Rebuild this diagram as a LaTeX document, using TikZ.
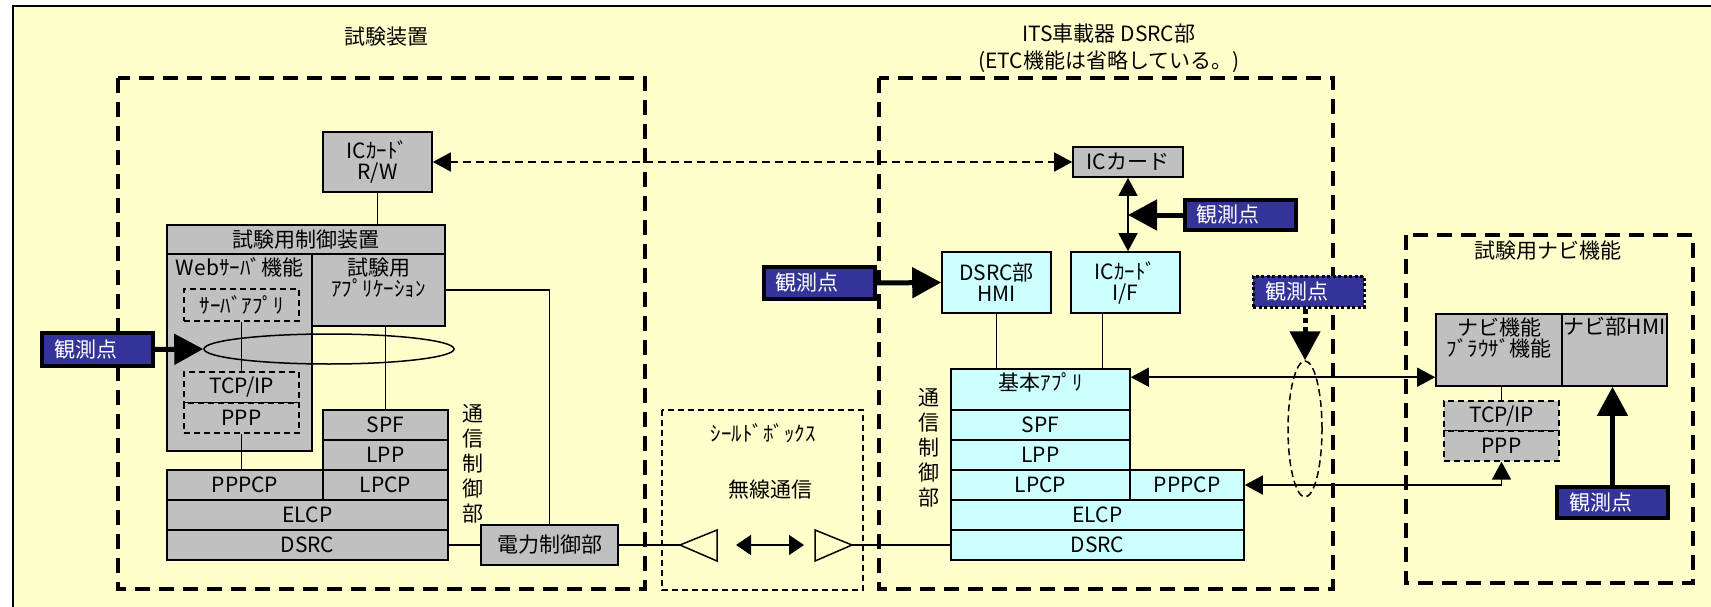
\documentclass[tikz,border=0pt]{standalone}
\usepackage{fontspec}
\setmainfont{Noto Sans CJK JP}
\usetikzlibrary{arrows.meta,shapes.geometric}
\definecolor{bgy}{HTML}{FFFFCC}
\definecolor{gry}{HTML}{C0C0C0}
\definecolor{cyn}{HTML}{CCFFFF}
\definecolor{obsblue}{HTML}{333399}
\newcommand\fs{\fontsize{21}{21}\selectfont}

\begin{document}
\begin{tikzpicture}[x=1pt,y=-1pt,font=\fs,
  wh/.style 2 args={minimum width=#1pt,minimum height=#2pt},
  gb/.style={draw,fill=gry,line width=1.6pt,inner sep=1pt,align=center},
  cb/.style={gb,fill=cyn},
  db/.style={gb,line width=1.4pt,dash pattern=on 6pt off 4pt},
  toptxt/.style={label={[font=\fs,align=center,anchor=north,inner sep=2pt,yshift=-2pt]north:{#1}}},
  big/.style={line width=3.5pt,dash pattern=on 15pt off 9pt},
  obs/.style={draw,fill=obsblue,text=white,line width=4pt,inner xsep=12pt,inner ysep=1pt,
    text width=87pt,align=left,minimum height=#1pt},
  oar/.style={line width=5pt,-{Triangle[length=29pt,width=30pt]}},
  tar/.style={line width=1.5pt,{Triangle[length=18pt,width=19pt]}-{Triangle[length=18pt,width=19pt]}},
  ln/.style={line width=1.5pt}]
\useasboundingbox (0,0) rectangle (1711,607);
\fill[white] (0,0) rectangle (1711,607);
\clip (0,0) rectangle (1711,607);
\draw[line width=2pt,fill=bgy] (13,6) rectangle (1730,630);

% frames
\draw[big] (118,78) rectangle (645,589);
\draw[big] (879,78) rectangle (1333,589);
\draw[big] (1406,235) rectangle (1693,583);
\draw[line width=1.4pt,dash pattern=on 6pt off 4pt] (662,410) rectangle (863,590);

\node (ttla) at (386,37) {試験装置};
\node[align=center] (ttlb) at (1109,48) {ITS車載器 DSRC部\\[6pt](ETC機能は省略している。)};
\node (ttlc) at (1548,251) {試験用ナビ機能};

% test unit
\node[gb,wh={109}{60}] (rw) at (377.5,162) {ICｶｰﾄﾞ\\R/W};
\node[gb,wh={278}{29}] (ctl) at (306,239.5) {試験用制御装置};
\node[gb,wh={145}{197},toptxt=Webｻｰﾊﾞ機能] (web) at (239.5,352.5) {};
\node[gb,wh={133}{72},toptxt={試験用\\ｱﾌﾟﾘｹｰｼｮﾝ}] (app) at (378.5,290) {};
\node[db,wh={115}{32}] (srv) at (241.5,305) {ｻｰﾊﾞｱﾌﾟﾘ};
\node[db,wh={115}{31}] (tcpa) at (241.5,387.5) {TCP/IP};
\node[db,wh={115}{30}] (pppa) at (241.5,418) {PPP};
\foreach \n/\t/\y in {spfa/SPF/425,lppa/LPP/455,lpcpa/LPCP/485}
  \node[gb,wh={125}{30}] (\n) at (385.5,\y) {\t};
\node[gb,wh={156}{30}] (pppcpa) at (245,485) {PPPCP};
\node[gb,wh={281}{30}] (elcpa) at (307.5,515) {ELCP};
\node[gb,wh={281}{30}] (dsrca) at (307.5,545) {DSRC};
\node[align=center] (tsa) at (473,464) {通\\[4pt]信\\[4pt]制\\[4pt]御\\[4pt]部};
\node[gb,wh={137}{40}] (pwr) at (549.5,545) {電力制御部};
\draw[ln] (rw.south) -- (rw.south |- ctl.north);
\draw[ln] (srv.south) -- (tcpa.north);
\draw[ln] (pppa.south) -- (pppa.south |- pppcpa.north);
\draw[ln] (spfa.north) -- (spfa.north |- app.south);
\draw[ln] (app.east) -| (pwr.north);
\draw[ln] (dsrca.east) -- (pwr.west);
\node[ellipse,draw,ln,wh={250}{30}] (ell) at (329,349) {};

% shield box
\node (shd) at (763,433) {ｼｰﾙﾄﾞﾎﾞｯｸｽ};
\node (rad) at (770,490) {無線通信};
\coordinate (antl) at (680,545);
\coordinate (antr) at (852,545);
\coordinate (wl) at (736,545);
\coordinate (wr) at (804,545);
\draw[ln] (antl) -- ++(37,-15) -- ++(0,31) -- cycle;
\draw[ln] (antr) -- ++(-37,-15) -- ++(0,31) -- cycle;
\draw[ln,{Triangle[length=15pt,width=20pt]}-{Triangle[length=15pt,width=20pt]}] (wl) -- (wr);
\draw[ln] (pwr.east) -- (antl);

% ITS unit
\node[gb,wh={110}{30}] (icc) at (1128,162) {ICカード};
\node[cb,wh={109}{61}] (hmi) at (996.5,282.5) {DSRC部\\HMI};
\node[cb,wh={109}{61}] (icf) at (1125.5,282.5) {ICｶｰﾄﾞ\\I/F};
\node[cb,wh={179}{41},toptxt=基本ｱﾌﾟﾘ] (kih) at (1040.5,389.5) {};
\foreach \n/\t/\y in {spfb/SPF/425,lppb/LPP/455,lpcpb/LPCP/485}
  \node[cb,wh={179}{30}] (\n) at (1040.5,\y) {\t};
\node[cb,wh={114}{30}] (pppcpb) at (1187,485) {PPPCP};
\node[cb,wh={293}{30}] (elcpb) at (1097.5,515) {ELCP};
\node[cb,wh={293}{30}] (dsrcb) at (1097.5,545) {DSRC};
\node[align=center] (tsb) at (929,448) {通\\[4pt]信\\[4pt]制\\[4pt]御\\[4pt]部};
\draw[ln] (hmi.south) -- (hmi.south |- kih.north);
\draw[ln] ([xshift=-23pt]icf.south) -- ([xshift=-23pt]icf.south |- kih.north);
\draw[ln] (antr) -- (dsrcb.west);
\draw[tar,dash pattern=on 8pt off 5pt] (rw.east) -- (icc.west);
\draw[tar] (icc.south) -- (icc.south |- icf.north);
\node[ellipse,draw,ln,dash pattern=on 7pt off 4pt,wh={34}{136}] (ell2) at (1305,429) {};

% navi
\node[gb,wh={126}{72},toptxt={ナビ機能\\ﾌﾞﾗｳｻﾞ機能}] (nav) at (1499,350) {};
\node[gb,wh={105}{72},toptxt=ナビ部HMI] (nhmi) at (1614.5,350) {};
\node[db,wh={115}{30}] (tcpc) at (1501.5,416) {TCP/IP};
\node[db,wh={115}{30}] (pppc) at (1501.5,446) {PPP};
\draw[ln] (tcpc.north) -- (tcpc.north |- nav.south);
\draw[tar] ([yshift=-9pt]kih.north east) -- ([yshift=-9pt]kih.north east -| nav.west);
\draw[tar] (pppcpb.east) -| (pppc.south);

% observation points
\node[obs=33] (obsa) at (97.5,349.5) {観測点};
\node[obs=30] (obsb) at (1240,215) {観測点};
\node[obs=32] (obsc) at (819,283) {観測点};
\node[obs=31,dash pattern=on 3pt off 2.5pt,line width=3pt] (obsd) at (1308.5,291.5) {観測点};
\node[obs=31] (obse) at (1612.5,502.5) {観測点};
\draw[oar] (obsa.east) -- (ell.west);
\draw[oar] (obsb.west) -- (obsb.west -| icc.south);
\draw[oar] (obsc.east) -- (hmi.west);
\draw[oar,dash pattern=on 5pt off 4pt] (obsd.south -| ell2.north) -- (ell2.north);
\draw[oar] (obse.north) -- (obse.north |- nhmi.south);
\end{tikzpicture}
\end{document}
